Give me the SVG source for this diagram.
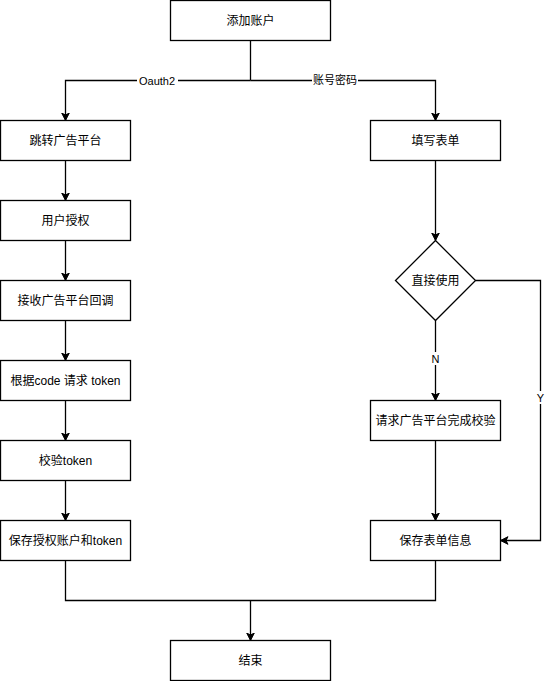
<svg xmlns="http://www.w3.org/2000/svg" width="549" height="681" viewBox="0 0 549 681">
<defs>
<marker id="arr" viewBox="-8 -4.5 9 9" refX="0" refY="0" markerWidth="9" markerHeight="9" markerUnits="userSpaceOnUse" orient="auto">
<path d="M0,0 L-7.5,-3.8 L-5.5,0 L-7.5,3.8 Z" fill="#000" stroke="#000" stroke-width="1"/>
</marker>
<style>
.box{fill:#fff;stroke:#000;stroke-width:1.3}
.t{font-family:"Liberation Sans","Noto Sans CJK SC",sans-serif;font-size:12px;fill:#000;text-anchor:middle;dominant-baseline:central}
.lbl{font-family:"Liberation Sans","Noto Sans CJK SC",sans-serif;font-size:11px;fill:#000;text-anchor:middle;dominant-baseline:central}
.e{fill:none;stroke:#000;stroke-width:1.3}
.a{marker-end:url(#arr)}
</style>
</defs>
<rect width="549" height="681" fill="#fff"/>
<g id="connectors">
<path class="e" d="M250.5,40.5 V80.5"/>
<path class="e a" d="M250.5,80.5 H65.5 V120.5"/>
<path class="e a" d="M250.5,80.5 H435.5 V120.5"/>
<path class="e a" d="M65.5,160.5 V200.5"/>
<path class="e a" d="M65.5,240.5 V280.5"/>
<path class="e a" d="M65.5,320.5 V360.5"/>
<path class="e a" d="M65.5,400.5 V440.5"/>
<path class="e a" d="M65.5,480.5 V520.5"/>
<path class="e a" d="M435.5,160.5 V240.5"/>
<path class="e a" d="M435.5,320.5 V400.5"/>
<path class="e a" d="M435.5,440.5 V520.5"/>
<path class="e a" d="M475.5,280.5 H540.5 V540.5 H500.5"/>
<path class="e" d="M65.5,560.5 V600.5 H435.5 V560.5"/>
<path class="e a" d="M250.5,600.5 V640.5"/>
<rect x="137" y="74" width="41" height="13" fill="#fff"/>
<text class="lbl" x="157" y="80.5">Oauth2</text>
<rect x="312" y="74" width="46" height="13" fill="#fff"/>
<text class="lbl" x="335" y="79.5">账号密码</text>
<rect x="429" y="352" width="13" height="13" fill="#fff"/>
<text class="lbl" x="435.5" y="358.5">N</text>
<rect x="534" y="391" width="13" height="13" fill="#fff"/>
<text class="lbl" x="540.5" y="397.5">Y</text>
</g>
<g id="n-start"><rect class="box" x="170.5" y="0.5" width="160" height="40"/><text class="t" x="250.5" y="20.5">添加账户</text></g>
<g id="n-jump"><rect class="box" x="0.5" y="120.5" width="130" height="40"/><text class="t" x="65.5" y="140.5">跳转广告平台</text></g>
<g id="n-auth"><rect class="box" x="0.5" y="200.5" width="130" height="40"/><text class="t" x="65.5" y="220.5">用户授权</text></g>
<g id="n-callback"><rect class="box" x="0.5" y="280.5" width="130" height="40"/><text class="t" x="65.5" y="300.5">接收广告平台回调</text></g>
<g id="n-code"><rect class="box" x="0.5" y="360.5" width="130" height="40"/><text class="t" x="65.5" y="380.5">根据code 请求 token</text></g>
<g id="n-verify"><rect class="box" x="0.5" y="440.5" width="130" height="40"/><text class="t" x="65.5" y="460.5">校验token</text></g>
<g id="n-save-token"><rect class="box" x="0.5" y="520.5" width="130" height="40"/><text class="t" x="65.5" y="540.5">保存授权账户和token</text></g>
<g id="n-form"><rect class="box" x="370.5" y="120.5" width="130" height="40"/><text class="t" x="435.5" y="140.5">填写表单</text></g>
<g id="n-direct"><path class="box" d="M435.5,240.5 L475.5,280.5 L435.5,320.5 L395.5,280.5 Z"/><text class="t" x="435.5" y="280.5">直接使用</text></g>
<g id="n-check"><rect class="box" x="370.5" y="400.5" width="130" height="40"/><text class="t" x="435.5" y="420.5">请求广告平台完成校验</text></g>
<g id="n-save-form"><rect class="box" x="370.5" y="520.5" width="130" height="40"/><text class="t" x="435.5" y="540.5">保存表单信息</text></g>
<g id="n-end"><rect class="box" x="170.5" y="640.5" width="160" height="40"/><text class="t" x="250.5" y="660.5">结束</text></g>
</svg>
